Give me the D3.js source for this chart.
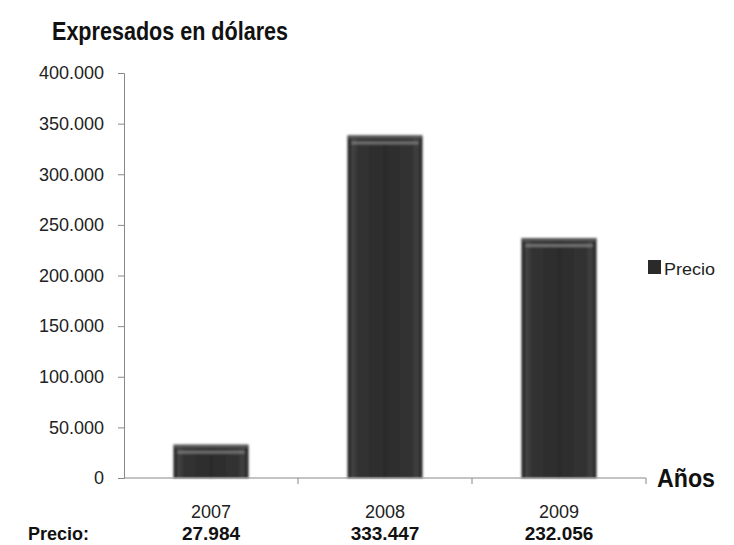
<!DOCTYPE html>
<html><head><meta charset="utf-8">
<script src="https://cdn.jsdelivr.net/npm/d3@7"></script>
<style>body{margin:0;background:#fff}svg{display:block}</style>
</head><body>
<svg id="c" width="734" height="545"></svg>
<script>
const categories = ["2007", "2008", "2009"];
const precio = [27984, 333447, 232056];
const yTicks = [0, 50000, 100000, 150000, 200000, 250000, 300000, 350000, 400000];
const seriesName = "Precio";
const title = "Expresados en dólares";
const xTitle = "Años";
const rowLabel = "Precio:";

(function () {
const FF = "Liberation Sans, Arial, sans-serif";
const svg = d3.select("#c");
const loc = d3.formatLocale({decimal: ",", thousands: ".", grouping: [3], currency: ["$", ""]});
const fmt = loc.format(",.0f");
const fmt3 = v => v === 0 ? "0" : loc.format(",.0f")(v);

const mLeft = 124, mRight = 646, mTop = 73, mBottom = 478;
const x = d3.scaleBand().domain(categories).range([mLeft, mRight]).padding(0);
const y = d3.scaleLinear().domain([0, 400000]).range([mBottom, mTop]);

const defs = svg.append("defs");
const g1 = defs.append("linearGradient").attr("id", "barG").attr("x1", 0).attr("x2", 1).attr("y1", 0).attr("y2", 0);
[[0, "#1c1c1c"], [0.07, "#444"], [0.15, "#323232"], [0.5, "#2c2c2c"], [0.85, "#323232"], [0.93, "#424242"], [1, "#1a1a1a"]]
  .forEach(([o, c]) => g1.append("stop").attr("offset", o).attr("stop-color", c));
const f = defs.append("filter").attr("id", "blur").attr("x", "-10%").attr("y", "-10%").attr("width", "120%").attr("height", "120%");
f.append("feGaussianBlur").attr("stdDeviation", 1.3);

svg.append("text").attr("x", 52).attr("y", 40).attr("font-family", FF)
  .attr("font-weight", "bold").attr("font-size", 25).attr("fill", "#111")
  .attr("textLength", 236).attr("lengthAdjust", "spacingAndGlyphs").text(title);

const yAxis = d3.axisLeft(y).tickValues(yTicks).tickFormat(fmt3).tickSize(6).tickPadding(14);
const ya = svg.append("g").attr("transform", `translate(${mLeft},0)`).call(yAxis);
ya.select(".domain").attr("stroke", "#888");
ya.selectAll(".tick line").attr("stroke", "#888");
ya.selectAll(".tick text").attr("font-family", FF).attr("font-size", 18).attr("fill", "#222");

const bw = 75;
const bars = svg.append("g");
categories.forEach((c, i) => {
  const cx = x(c) + x.bandwidth() / 2;
  const bx = cx - bw / 2, by = y(precio[i]), bh = mBottom - by;
  const gg = bars.append("g").attr("filter", "url(#blur)");
  gg.append("rect").attr("x", bx).attr("y", by - 5).attr("width", bw).attr("height", bh + 5).attr("fill", "url(#barG)");
  gg.append("rect").attr("x", bx + 4).attr("y", by + 1).attr("width", bw - 8).attr("height", 3).attr("fill", "#8a8a8a").attr("opacity", 0.7);
  gg.append("rect").attr("x", bx + 1).attr("y", by - 5).attr("width", bw - 2).attr("height", 3).attr("fill", "#5a5a5a");
});

const xa = svg.append("g");
xa.append("line").attr("x1", mLeft).attr("x2", mRight).attr("y1", mBottom).attr("y2", mBottom).attr("stroke", "#888");
const bounds = categories.map(c => x(c)).concat([mRight]);
bounds.slice(1).forEach(b => xa.append("line").attr("x1", b).attr("x2", b).attr("y1", mBottom).attr("y2", mBottom + 6).attr("stroke", "#888"));
categories.forEach((c, i) => {
  const cx = x(c) + x.bandwidth() / 2;
  xa.append("text").attr("x", cx).attr("y", 518).attr("text-anchor", "middle")
    .attr("font-family", FF).attr("font-size", 18).attr("fill", "#222").text(c);
  xa.append("text").attr("x", cx).attr("y", 540).attr("text-anchor", "middle")
    .attr("font-family", FF).attr("font-weight", "bold").attr("font-size", 19).attr("fill", "#111").text(fmt(precio[i]));
});
svg.append("text").attr("x", 28).attr("y", 540).attr("font-family", FF)
  .attr("font-weight", "bold").attr("font-size", 18).attr("fill", "#111").text(rowLabel);

svg.append("text").attr("x", 657).attr("y", 487).attr("font-family", FF).attr("font-weight", "bold")
  .attr("font-size", 25).attr("fill", "#111").attr("textLength", 58).attr("lengthAdjust", "spacingAndGlyphs").text(xTitle);

svg.append("rect").attr("x", 648).attr("y", 260).attr("width", 13).attr("height", 14).attr("fill", "#2a2a2a");
svg.append("text").attr("x", 664).attr("y", 275).attr("font-family", FF)
  .attr("font-size", 17).attr("fill", "#222").attr("textLength", 51).attr("lengthAdjust", "spacingAndGlyphs").text(seriesName);
})();
</script>
</body></html>
